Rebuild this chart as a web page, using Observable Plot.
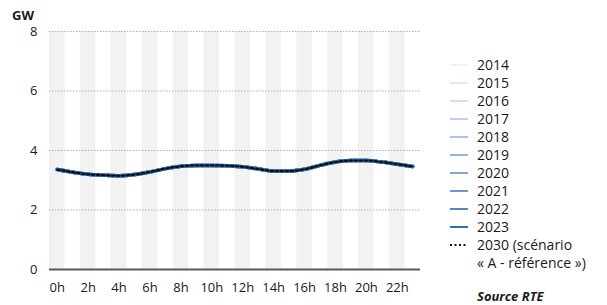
<!DOCTYPE html>
<html><head><meta charset="utf-8">
<script src="https://cdn.jsdelivr.net/npm/d3@7"></script>
<script src="https://cdn.jsdelivr.net/npm/@observablehq/plot@0.6"></script>
<style>body{margin:0;background:#fff;font-family:"Open Sans",sans-serif;} #c{position:relative;width:607px;height:305px;}</style>
</head><body><div id="c"></div>
<script>
const hours = d3.range(24);
const xTicks = [0,2,4,6,8,10,12,14,16,18,20,22];
const yTicks = [0,2,4,6,8];
const years = ["2014","2015","2016","2017","2018","2019","2020","2021","2022","2023"];
const yearColors = ["#eef3fa","#e0e9f6","#d2e0f2","#bfd2eb","#abc4e5","#97b6de","#82a7d7","#6b97cf","#5487c6","#2e6fb8"];
const profile = [3.36,3.27,3.20,3.17,3.15,3.19,3.28,3.39,3.47,3.50,3.50,3.49,3.45,3.38,3.31,3.31,3.37,3.50,3.61,3.66,3.66,3.61,3.54,3.46];
const scenarioLabel = ["2030 (scénario", "« A - référence »)"];
const source = "Source RTE";

const yearRows = years.flatMap((yr,i)=>hours.map(h=>({year:yr,h,v:profile[h]})));
const scen = hours.map(h=>({h,v:profile[h]}));
const bands = xTicks.map(h=>({h}));

const plot = Plot.plot({
  width:607, height:305,
  marginLeft:49, marginRight:187, marginTop:31, marginBottom:36,
  style:{fontFamily:"Open Sans, sans-serif", fontSize:"13px", color:"#1a1a1a"},
  x:{domain:[-0.5,23.5], label:null},
  y:{domain:[0,8], label:null},
  color:{domain:years, range:yearColors},
  marks:[
    Plot.rectY(bands,{x1:d=>d.h-0.5, x2:d=>d.h+0.5, y1:0, y2:8, fill:"#f2f2f2"}),
    Plot.gridY(yTicks.filter(d=>d>0),{stroke:"#b0b0b0", strokeOpacity:1, strokeDasharray:"1.5,1.5"}),
    Plot.axisX({ticks:xTicks, tickFormat:d=>d+"h", tickSize:0, tickPadding:13, fontSize:13, fill:"#1a1a1a"}),
    Plot.axisY({ticks:yTicks, tickSize:0, tickPadding:12, fontSize:13, fill:"#1a1a1a"}),
    Plot.ruleY([0],{stroke:"#595959", strokeWidth:2}),
    Plot.line(yearRows,{x:"h", y:"v", z:"year", stroke:"year", strokeWidth:3.5, curve:"monotone-x"}),
    Plot.line(scen,{x:"h", y:"v", stroke:"#111", strokeWidth:2.3, strokeDasharray:"2.5,2.5", curve:"monotone-x"})
  ]
});
document.getElementById("c").appendChild(plot);

const svg = d3.select(plot);
svg.append("text").attr("x",12).attr("y",20).text("GW").attr("text-anchor","start")
  .attr("font-weight","bold").attr("font-size",13).attr("fill","#1a1a1a");
const lg = svg.append("g").attr("font-size",14).attr("fill","#1a1a1a").attr("text-anchor","start");
years.forEach((yr,i)=>{
  const y = 65 + i*18;
  lg.append("line").attr("x1",450).attr("x2",468).attr("y1",y).attr("y2",y)
    .attr("stroke",yearColors[i]).attr("stroke-width",2);
  lg.append("text").attr("x",477).attr("y",y).attr("dy","0.35em").text(yr);
});
const ys = 65 + 10*18;
lg.append("line").attr("x1",450).attr("x2",468).attr("y1",ys).attr("y2",ys)
  .attr("stroke","#111").attr("stroke-width",2.2).attr("stroke-dasharray","2,2.5");
lg.append("text").attr("x",477).attr("y",ys).attr("dy","0.35em").text(scenarioLabel[0]);
lg.append("text").attr("x",477).attr("y",ys+18).attr("dy","0.35em").text(scenarioLabel[1]);
lg.append("text").attr("x",477).attr("y",296).attr("dy","0.35em").text(source)
  .attr("font-weight","bold").attr("font-style","italic").attr("font-size",13);
</script></body></html>
